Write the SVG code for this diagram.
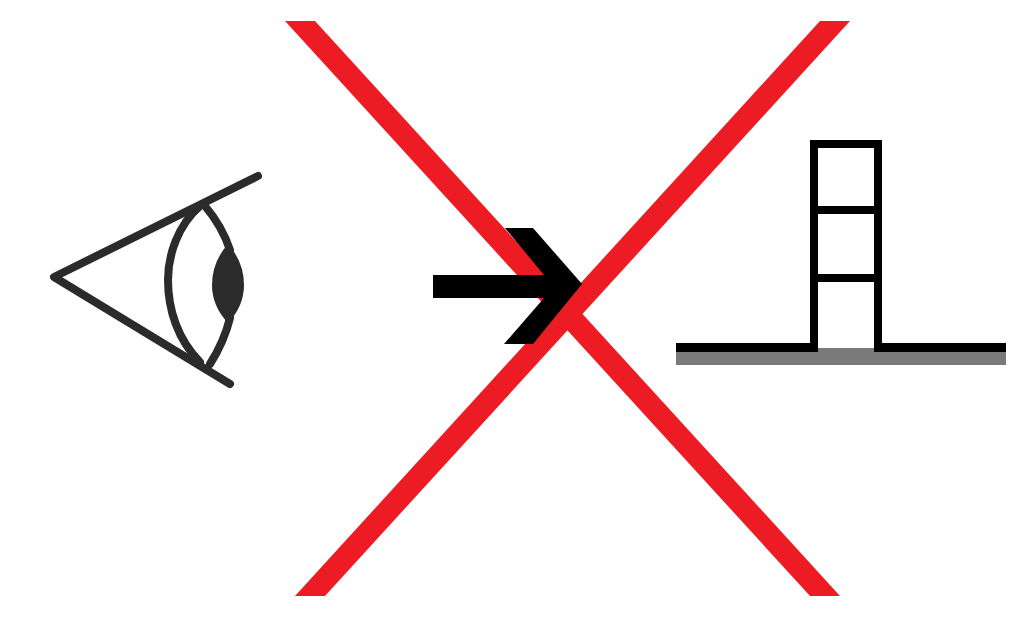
<svg xmlns="http://www.w3.org/2000/svg" width="1018" height="623" viewBox="0 0 1018 623">
<style>
.eye{fill:none;stroke:#2b2b2b;stroke-width:8;stroke-linecap:round;stroke-linejoin:round}
.red{fill:#ed1c24}
.b{fill:none;stroke:#000;stroke-width:8}
</style>
<rect width="1018" height="623" fill="#fff"/>
<g id="eye">
<path class="eye" d="M258 176L54 277L230 384"/>
<path class="eye" d="M200 206C178 225 168 255 168 280C168 310 178 340 200 362"/>
<path class="eye" d="M205 206Q222 226 230 250M230 318Q224 342 210 364"/>
<path d="M228 244Q244 262 244 285Q244 306 228 323Q212 306 212 285Q212 262 228 244Z" fill="#2b2b2b"/>
</g>
<g id="cross">
<polygon class="red" points="285,21 315,21 840,596 810,596"/>
<polygon class="red" points="820,21 850,21 325,596 295,596"/>
</g>
<g id="arrow">
<polygon points="433,275 544,275 505,228 533,228 582,284 533,344 504,344 544,298 433,298" fill="#000"/>
</g>
<g id="tower">
<rect x="676" y="348" width="330" height="17" fill="#7a7a7a"/>
<rect x="676" y="343" width="137" height="9" fill="#000"/>
<rect x="878" y="343" width="128" height="9" fill="#000"/>
<path class="b" d="M814 352V144H878V352M814 210H878M814 278H878"/>
</g>
</svg>
